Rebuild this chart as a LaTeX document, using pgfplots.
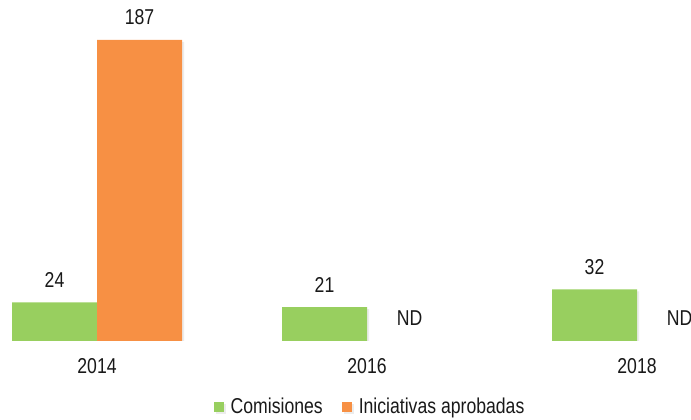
\documentclass[border=0pt]{standalone}
\usepackage{fontspec}
\setmainfont{Liberation Sans}[FakeStretch=0.82]
\usepackage{pgfplots}
\pgfplotsset{compat=1.18}
\definecolor{cgreen}{HTML}{98CF5F}
\definecolor{corange}{HTML}{F79044}
\begin{document}
\fontsize{21.5bp}{25bp}\selectfont
\begin{tikzpicture}
\useasboundingbox (0,0) rectangle (691bp,420bp);
\begin{axis}[
  at={(0bp,79bp)}, anchor=south west,
  scale only axis, width=691bp, height=341bp,
  xmin=-0.3593, xmax=2.2, ymin=0, ymax=211.85,
  axis line style={draw=none}, tick style={draw=none},
  ytick=\empty,
  xtick={0,1,2}, xticklabels={2014,2016,2018},
  xticklabel style={anchor=center, yshift=-21bp, text=black!90, font=\fontsize{21.5bp}{25bp}\selectfont},
  ybar, bar width=85bp,
  nodes near coords, point meta=explicit symbolic,
  every node near coord/.append style={anchor=center, yshift=22.5bp, text=black!90, font=\fontsize{21.5bp}{25bp}\selectfont},
  legend columns=2,
  legend style={draw=none, fill=none, at={(0.5355,-0.1935)}, anchor=center,
    /tikz/every even column/.append style={column sep=17bp},
    font=\fontsize{21.5bp}{25bp}\selectfont, text=black!90},
  legend image code/.code={\fill[#1] (0bp,-5bp) rectangle (10bp,5bp); \path (15bp,0bp);},
]
\addplot[fill=cgreen, draw=none, bar shift=-42.5bp,
  preaction={fill=black!25, opacity=0.3, transform canvas={xshift=2bp,yshift=-2bp}}]
  coordinates {(0,24)[24] (1,21)[21] (2,32)[32]};
\addlegendentry{Comisiones}
\addplot[fill=corange, draw=none, bar shift=42.5bp,
  preaction={fill=black!25, opacity=0.3, transform canvas={xshift=2bp,yshift=-2bp}}]
  coordinates {(0,187)[187] (1,0)[ND] (2,0)[ND]};
\addlegendentry{Iniciativas aprobadas}
\end{axis}
\end{tikzpicture}
\end{document}
